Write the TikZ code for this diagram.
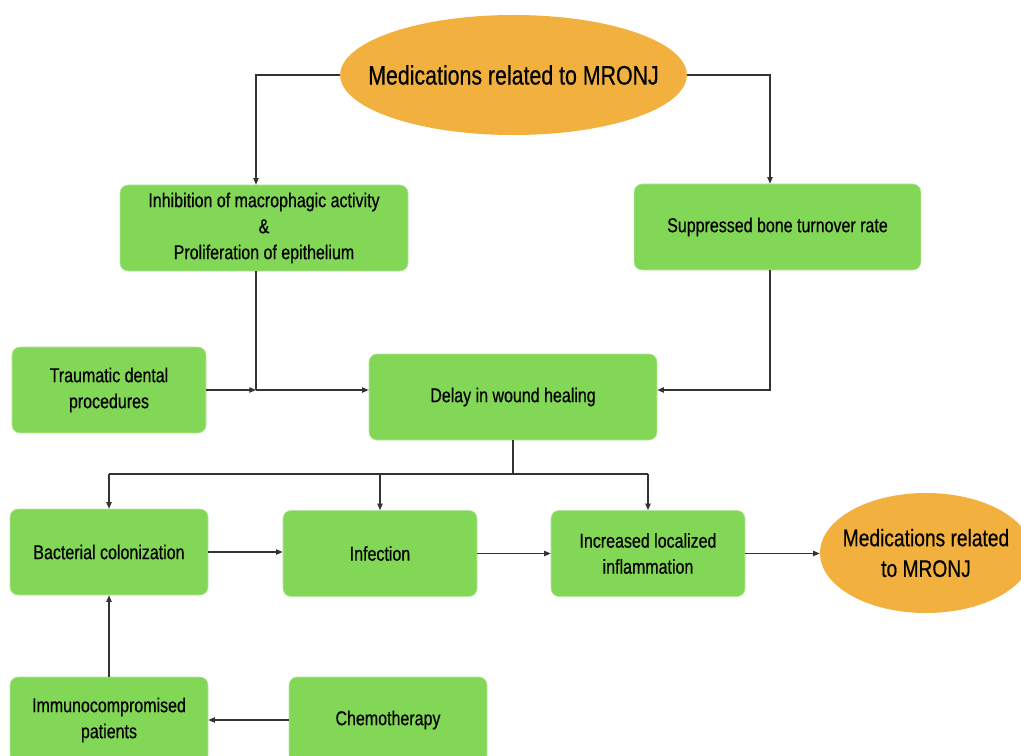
\documentclass[tikz,border=0pt]{standalone}
\usepackage{fontspec}
\setmainfont{Liberation Sans}[FakeStretch=0.8, FakeBold=0.5]
\usetikzlibrary{positioning,arrows.meta,shapes.geometric,calc}
\definecolor{boxgreen}{RGB}{130,215,86}
\definecolor{drugorange}{RGB}{242,177,62}
\tikzset{
  box/.style={rectangle, rounded corners=6pt, fill=boxgreen, draw=boxgreen!60!white,
    minimum height=64.5pt, align=center, inner sep=2pt,
    font=\fontsize{15}{19.5}\selectfont},
  drug/.style={ellipse, fill=drugorange, draw=none, inner sep=0pt},
  druglabel/.style={align=center, inner sep=0pt},
  link/.style={draw=black!80, line width=0.9pt,
    -{Triangle[length=5pt,width=4pt]}},
  line/.style={draw=black!80, line width=0.9pt}
}

\begin{document}
\begin{tikzpicture}[x=0.75pt, y=-0.75pt]
    \path[fill=white, use as bounding box] (0,0) rectangle (1021,756);
    \node[drug, minimum width=260pt, minimum height=90pt] (top) at (513.5,75) {};
    \node[druglabel, font=\fontsize{20}{23}\selectfont] (toptext) at (top) {Medications related to MRONJ};
    \node[box, minimum width=216pt] (inhib) at (264,228)
      {Inhibition of macrophagic activity\\ \&\\ Proliferation of epithelium};
    \node[box, minimum width=215pt] (supp) at (777.5,227) {Suppressed bone turnover rate};
    \node[box, minimum width=145.5pt] (trauma) at (109,390) {Traumatic dental\\ procedures};
    \node[box, minimum width=216pt] (delay) at (513,397) {Delay in wound healing};
    \node[box, minimum width=148.5pt] (bact) at (109,552) {Bacterial colonization};
    \node[box, minimum width=145.5pt] (infect) at (380,553.5) {Infection};
    \node[box, minimum width=145.5pt] (incr) at (648,553.5) {Increased localized\\ inflammation};
    \node[drug, minimum width=159pt, minimum height=90pt] (onj) at (926,553) {};
    \node[druglabel, font=\fontsize{18}{23}\selectfont] (onjtext) at (onj) {Medications related\\ to MRONJ};
    \node[box, minimum width=148.5pt] (immuno) at (109,720) {Immunocompromised\\ patients};
    \node[box, minimum width=148.5pt] (chemo) at (388,720) {Chemotherapy};

    \coordinate (jl) at (256,390);
    \coordinate (jr) at (770,390);
    \coordinate (jb) at (513,474);

    \draw[link] (top.west) -| (jl |- inhib.north);
    \draw[link] (top.east) -| (jr |- supp.north);
    \draw[line] (jl |- inhib.south) -- (jl);
    \draw[link] (trauma.east |- jl) -- (jl);
    \draw[link] (jl) -- (jl -| delay.west);
    \draw[link] (jr |- supp.south) -- (jr) -- (jr -| delay.east);

    \draw[line] (delay.south) -- (jb);
    \draw[line] (bact.north |- jb) -- (incr.north |- jb);
    \draw[link] (bact.north |- jb) -- (bact.north);
    \draw[link] (infect.north |- jb) -- (infect.north);
    \draw[link] (incr.north |- jb) -- (incr.north);

    \draw[link] (bact.east) -- (bact.east -| infect.west);
    \draw[link] (infect.east) -- (incr.west);
    \draw[link] (incr.east) -- (incr.east -| onj.west);
    \draw[link] (chemo.west) -- (immuno.east);
    \draw[link] (immuno.north) -- (bact.south);
  \end{tikzpicture}
\end{document}
